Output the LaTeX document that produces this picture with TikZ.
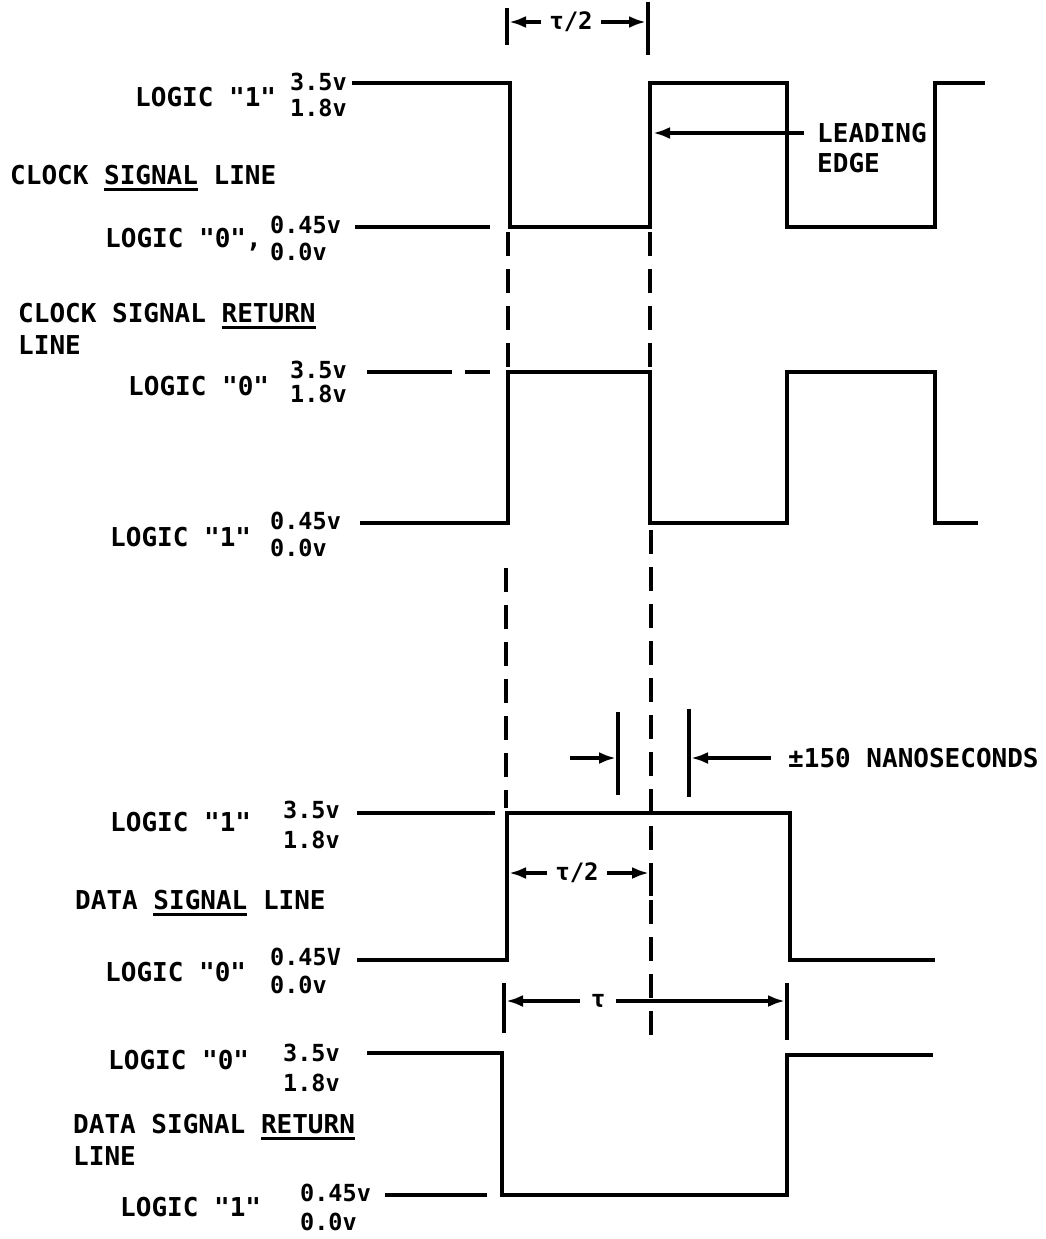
\documentclass[tikz,border=0pt]{standalone}
\usepackage{fontspec}
\setmonofont{DejaVu Sans Mono}
\usetikzlibrary{arrows.meta}
\newcommand\myul[1]{\setbox0\hbox{#1}\rlap{\rule[-6pt]{\wd0}{2.6pt}}\box0\relax}
\begin{document}
\begin{tikzpicture}[x=1pt,y=-1pt,
  wave/.style={line width=4.5pt, line join=miter},
  refl/.style={line width=3.5pt},
  vdash/.style={line width=4pt, dash pattern=on 24pt off 13pt},
  dim/.style={line width=3.5pt, -{Latex[length=17pt,width=12pt]}},
  barl/.style={line width=3.5pt},
  lbl/.style={font=\ttfamily\fontsize{26}{32}\selectfont\bfseries, inner sep=0pt, anchor=west},
  volt/.style={font=\ttfamily\fontsize{23.5}{28}\selectfont\bfseries, inner sep=0pt, anchor=west},
  dlab/.style={font=\ttfamily\fontsize{24}{28}\selectfont\bfseries, inner sep=8pt}]
\useasboundingbox (0,0) rectangle (1046,1239);

% ---------- labels ----------
\node[lbl] (l1) at (135,97) {LOGIC "1"};
\node[volt] (v1a) at (290,82) {3.5v};
\node[volt] (v1b) at (290,108) {1.8v};
\node[lbl] (c1) at (10,178) {CLOCK \myul{SIGNAL} LINE};
\node[lbl] (l2) at (105,240) {LOGIC "0",};
\node[volt] (v2a) at (270,225) {0.45v};
\node[volt] (v2b) at (270,252) {0.0v};
\node[lbl, align=left] (c2) at (18,329) {CLOCK SIGNAL \myul{RETURN}\\LINE};
\node[lbl] (l3) at (128,386) {LOGIC "0"};
\node[volt] (v3a) at (290,370) {3.5v};
\node[volt] (v3b) at (290,394) {1.8v};
\node[lbl] (l4) at (110,537) {LOGIC "1"};
\node[volt] (v4a) at (270,521) {0.45v};
\node[volt] (v4b) at (270,548) {0.0v};
\node[lbl] (l5) at (110,822) {LOGIC "1"};
\node[volt] (v5a) at (283,810) {3.5v};
\node[volt] (v5b) at (283,840) {1.8v};
\node[lbl] (d1) at (75,903) {DATA \myul{SIGNAL} LINE};
\node[lbl] (l6) at (105,972) {LOGIC "0"};
\node[volt] (v6a) at (270,957) {0.45V};
\node[volt] (v6b) at (270,985) {0.0v};
\node[lbl] (l7) at (108,1060) {LOGIC "0"};
\node[volt] (v7a) at (283,1053) {3.5v};
\node[volt] (v7b) at (283,1083) {1.8v};
\node[lbl, align=left] (d2) at (73,1140) {DATA SIGNAL \myul{RETURN}\\LINE};
\node[lbl] (l8) at (120,1207) {LOGIC "1"};
\node[volt] (v8a) at (300,1193) {0.45v};
\node[volt] (v8b) at (300,1222) {0.0v};

% ---------- clock signal line ----------
\draw[wave] (352,83) -- (510,83) -- (510,227) -- (650,227) -- (650,83) -- (787,83)
  -- (787,227) -- (935,227) -- (935,83) -- (985,83);
\draw[refl] (355,227) -- (490,227);

% ---------- clock signal return line ----------
\draw[refl] (367,372) -- (452,372);
\draw[refl] (465,372) -- (490,372);
\draw[wave] (360,523) -- (508,523) -- (508,372) -- (650,372) -- (650,523) -- (787,523)
  -- (787,372) -- (935,372) -- (935,523) -- (978,523);

% ---------- data signal line ----------
\draw[refl] (357,813) -- (495,813);
\draw[wave] (357,960) -- (507,960) -- (507,813) -- (790,813) -- (790,960) -- (935,960);

% ---------- data signal return line ----------
\draw[wave] (367,1053) -- (502,1053) -- (502,1195) -- (787,1195) -- (787,1055) -- (933,1055);
\draw[refl] (385,1195) -- (487,1195);

% ---------- dashed verticals ----------
\coordinate (a1) at (508,232); \coordinate (a2) at (508,367);
\coordinate (a3) at (506,568); \coordinate (a4) at (506,808);
\coordinate (b1) at (650,232); \coordinate (b2) at (650,367);
\coordinate (b3) at (651,530); \coordinate (b4) at (651,1045);
\draw[vdash] (a1) -- (a2);
\draw[vdash] (a3) -- (a4);
\draw[vdash] (b1) -- (b2);
\draw[vdash] (b3) -- (b4);

% ---------- top tau/2 ----------
\coordinate (tl1) at (507,8);  \coordinate (tl2) at (507,45);
\coordinate (tr1) at (648,2);  \coordinate (tr2) at (648,55);
\draw[barl] (tl1) -- (tl2);
\draw[barl] (tr1) -- (tr2);
\node[dlab] (t1) at (571,22) {τ/2};
\coordinate (t1L) at (509,22); \coordinate (t1R) at (646,22);
\draw[dim] (t1) -- (t1L);
\draw[dim] (t1) -- (t1R);

% ---------- leading edge ----------
\node[lbl] (lead) at (817,133) {LEADING};
\node[lbl] (edge) at (817,163) {EDGE};
\coordinate (le) at (653,133);
\draw[dim] ([xshift=-13pt]lead.west) -- (le);

% ---------- +-150 ns ----------
\coordinate (n1a) at (618,712); \coordinate (n1b) at (618,795);
\coordinate (n2a) at (689,709); \coordinate (n2b) at (689,797);
\draw[barl] (n1a) -- (n1b);
\draw[barl] (n2a) -- (n2b);
\coordinate (nsA) at (570,758); \coordinate (nsAt) at (616,758);
\draw[dim] (nsA) -- (nsAt);
\node[lbl] (ns) at (788,758) {±150 NANOSECONDS};
\coordinate (nsBt) at (691,758);
\draw[dim] ([xshift=-17pt]ns.west) -- (nsBt);

% ---------- data tau/2 ----------
\coordinate (dr1) at (651,866); \coordinate (dr2) at (651,896);
\draw[barl] (dr1) -- (dr2);
\node[dlab] (t2) at (577,873) {τ/2};
\coordinate (t2L) at (509,873); \coordinate (t2R) at (649,873);
\draw[dim] (t2) -- (t2L);
\draw[dim] (t2) -- (t2R);

% ---------- tau ----------
\coordinate (ul1) at (504,983); \coordinate (ul2) at (504,1033);
\coordinate (ur1) at (787,983); \coordinate (ur2) at (787,1040);
\draw[barl] (ul1) -- (ul2);
\draw[barl] (ur1) -- (ur2);
\node[dlab, inner sep=11pt] (t3) at (598,1001) {τ};
\coordinate (t3L) at (506,1001); \coordinate (t3R) at (785,1001);
\draw[dim] (t3) -- (t3L);
\draw[dim] (t3) -- (t3R);
\end{tikzpicture}
\end{document}
